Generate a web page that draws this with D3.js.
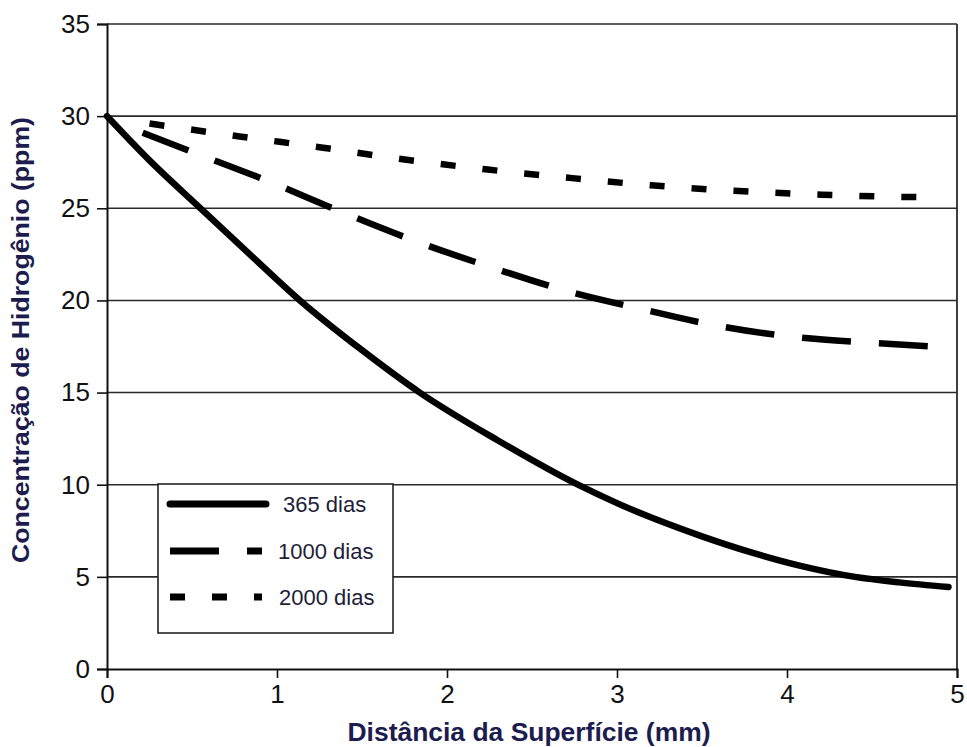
<!DOCTYPE html>
<html>
<head>
<meta charset="utf-8">
<script src="https://cdn.jsdelivr.net/npm/d3@7"></script>
<style>
  html, body { margin: 0; padding: 0; background: #fff; }
  svg { display: block; font-family: "Liberation Sans", Arial, sans-serif; }
</style>
</head>
<body>
<svg id="chart" width="967" height="747"></svg>
<script>
// Hydrogen concentration profiles vs. distance from the surface
const dist365 = [0, 0.25, 0.55, 0.84, 1.135, 1.5, 1.84, 2.3, 2.77, 3.0, 3.5, 3.8, 4.08, 4.4, 4.66, 4.95];
const conc365 = [30, 27.6, 25.0, 22.5, 20.0, 17.3, 15.0, 12.4, 10.0, 9.0, 7.2, 6.3, 5.6, 5.0, 4.7, 4.45];

const dist1000 = [0.21, 0.49, 0.94, 1.38, 1.82, 2.26, 2.71, 3.16, 3.55, 4.06, 4.5, 4.94];
const conc1000 = [29.1, 28.1, 26.5, 24.8, 23.2, 21.8, 20.5, 19.5, 18.7, 18.0, 17.7, 17.45];

const dist2000 = [0.25, 0.78, 1.26, 1.75, 2.24, 2.72, 3.2, 3.69, 4.18, 4.65, 4.9];
const conc2000 = [29.6, 28.9, 28.3, 27.65, 27.1, 26.65, 26.25, 25.95, 25.75, 25.62, 25.6];

const seriesNames = ["365 dias", "1000 dias", "2000 dias"];
const xTicks = [0, 1, 2, 3, 4, 5];
const yTicks = [0, 5, 10, 15, 20, 25, 30, 35];
const xTitle = "Distância da Superfície (mm)";
const yTitle = "Concentração de Hidrogênio (ppm)";

const series = [
  { name: seriesNames[0], xs: dist365, ys: conc365, dash: null },
  { name: seriesNames[1], xs: dist1000, ys: conc1000, dash: "49,28" },
  { name: seriesNames[2], xs: dist2000, ys: conc2000, dash: "15,27" }
];

const svg = d3.select("#chart");
const plotLeft = 107, plotRight = 957, plotTop = 24, plotBottom = 669;

const x = d3.scaleLinear().domain([0, 5]).range([plotLeft, plotRight]);
const y = d3.scaleLinear().domain([0, 35]).range([plotBottom, plotTop]);

// horizontal gridlines
svg.append("g").selectAll("line").data(yTicks.filter(d => d > 0)).join("line")
  .attr("x1", plotLeft).attr("x2", plotRight)
  .attr("y1", d => y(d)).attr("y2", d => y(d))
  .attr("stroke", "#2a2a2a").attr("stroke-width", 1.6);

// right frame
svg.append("line").attr("x1", plotRight).attr("x2", plotRight).attr("y1", plotTop).attr("y2", plotBottom)
  .attr("stroke", "#2a2a2a").attr("stroke-width", 1.8);

// y axis
const yAxis = svg.append("g").attr("transform", `translate(${plotLeft},0)`)
  .call(d3.axisLeft(y).tickValues(yTicks).tickSize(10).tickPadding(7).tickFormat(d3.format("d")));
yAxis.select(".domain").attr("stroke", "#111").attr("stroke-width", 2);
yAxis.selectAll(".tick line").attr("stroke", "#111").attr("stroke-width", 1.6);
yAxis.selectAll(".tick text").attr("font-size", 26).attr("fill", "#111")
  .attr("font-family", "'Liberation Sans', Arial, sans-serif");

// x axis
const xAxis = svg.append("g").attr("transform", `translate(0,${plotBottom})`)
  .call(d3.axisBottom(x).tickValues(xTicks).tickSize(9).tickPadding(7).tickFormat(d3.format("d")));
xAxis.select(".domain").attr("stroke", "#111").attr("stroke-width", 2);
xAxis.selectAll(".tick line").attr("stroke", "#111").attr("stroke-width", 1.6);
xAxis.selectAll(".tick text").attr("font-size", 26).attr("fill", "#111")
  .attr("font-family", "'Liberation Sans', Arial, sans-serif");

// curves
const line = d3.line().x(d => x(d[0])).y(d => y(d[1])).curve(d3.curveMonotoneX);
series.forEach(s => {
  const pts = s.xs.map((v, i) => [v, s.ys[i]]);
  svg.append("path").datum(pts)
    .attr("d", line)
    .attr("fill", "none")
    .attr("stroke", "#000")
    .attr("stroke-width", 6.5)
    .attr("stroke-dasharray", s.dash)
    .attr("stroke-linecap", s.dash ? "butt" : "round");
});

// axis titles
svg.append("text").attr("x", 529).attr("y", 741).attr("text-anchor", "middle")
  .attr("font-size", 26).attr("font-weight", "bold").attr("fill", "#1c1c4e")
  .attr("textLength", 363).attr("lengthAdjust", "spacingAndGlyphs")
  .text(xTitle);
svg.append("text").attr("transform", "translate(29,340) rotate(-90)").attr("text-anchor", "middle")
  .attr("font-size", 24).attr("font-weight", "bold").attr("fill", "#1c1c4e")
  .attr("textLength", 446).attr("lengthAdjust", "spacingAndGlyphs")
  .text(yTitle);

// legend
const lg = svg.append("g");
lg.append("rect").attr("x", 158).attr("y", 484).attr("width", 235).attr("height", 149)
  .attr("fill", "#fff").attr("stroke", "#222").attr("stroke-width", 1.6);
const rowsY = [504, 551, 597];
const lineLen = [96, 92, 92];
const textX = [283, 278, 279];
series.forEach((s, i) => {
  lg.append("line").attr("x1", 170).attr("x2", 170 + lineLen[i])
    .attr("y1", rowsY[i]).attr("y2", rowsY[i])
    .attr("stroke", "#000").attr("stroke-width", 7)
    .attr("stroke-dasharray", s.dash)
    .attr("stroke-linecap", s.dash ? "butt" : "round");
  lg.append("text").attr("x", textX[i]).attr("y", rowsY[i] + 8)
    .attr("font-size", 22).attr("fill", "#1e1e38")
    .text(s.name);
});
</script>
</body>
</html>
